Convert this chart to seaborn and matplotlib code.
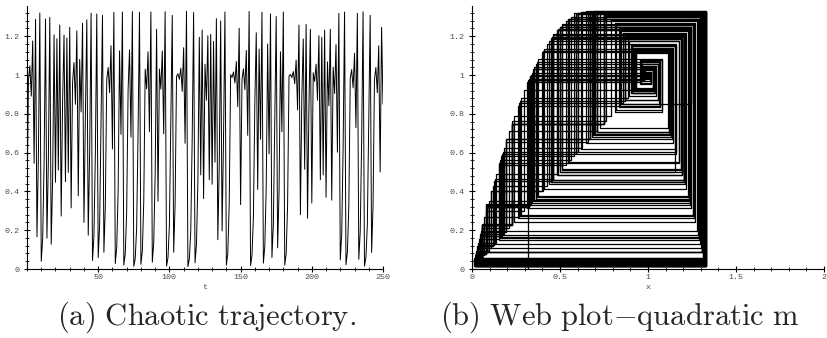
import matplotlib
matplotlib.use('Agg')
import matplotlib.pyplot as plt
from matplotlib.ticker import MultipleLocator, FixedLocator, FuncFormatter
import seaborn as sns
import numpy as np
import pandas as pd

# values of the chaotic trajectory, estimated from panel (a), t = 0 .. 250
traj = [
    0.320, 0.972, 1.047, 0.891, 1.176, 0.545, 1.287, 0.166, 0.581, 1.320,
    0.040, 0.155, 0.548, 1.289, 0.159, 0.560, 1.297, 0.128, 0.463, 1.207,
    0.447, 1.187, 0.510, 1.258, 0.273, 0.868, 1.206, 0.450, 1.191, 0.498,
    1.246, 0.315, 0.962, 1.065, 0.849, 1.228, 0.377, 1.081, 0.810, 1.267,
    0.240, 0.787, 1.285, 0.174, 0.605, 1.319, 0.044, 0.170, 0.593, 1.315,
    0.059, 0.226, 0.750, 1.308, 0.086, 0.322, 0.976, 1.039, 0.909, 1.151,
    0.619, 1.323, 0.028, 0.110, 0.404, 1.125, 0.694, 1.325, 0.020, 0.079,
    0.297, 0.923, 1.130, 0.680, 1.327, 0.014, 0.055, 0.211, 0.710, 1.324,
    0.024, 0.094, 0.349, 1.030, 0.929, 1.120, 0.708, 1.325, 0.035, 0.136,
    0.488, 1.236, 0.350, 1.031, 0.927, 1.124, 0.697, 1.327, 0.015, 0.059,
    0.226, 0.750, 1.308, 0.086, 0.330, 0.993, 1.007, 0.978, 1.036, 0.916,
    1.141, 0.648, 1.329, 0.013, 0.051, 0.196, 0.669, 1.322, 0.032, 0.125,
    0.453, 1.195, 0.485, 1.232, 0.363, 1.056, 0.870, 1.203, 0.460, 1.210,
    0.437, 1.174, 0.551, 1.291, 0.151, 0.535, 1.279, 0.196, 0.669, 1.325,
    0.020, 0.079, 0.335, 1.002, 0.988, 1.016, 0.959, 1.070, 0.837, 1.241,
    0.332, 0.980, 1.032, 0.925, 1.127, 0.689, 1.328, 0.018, 0.071, 0.269,
    0.858, 1.218, 0.410, 1.134, 0.669, 1.324, 0.030, 0.117, 0.427, 1.160,
    0.593, 1.315, 0.059, 0.230, 0.761, 1.302, 0.109, 0.400, 1.120, 0.708,
    1.325, 0.020, 0.079, 0.330, 0.995, 1.003, 0.987, 1.018, 0.955, 1.077,
    0.820, 1.258, 0.280, 0.884, 1.186, 0.514, 1.261, 0.262, 0.842, 1.236,
    0.340, 1.012, 0.967, 1.056, 0.870, 1.203, 0.460, 1.195, 0.485, 1.232,
    0.370, 1.068, 0.842, 1.236, 0.355, 1.041, 0.905, 1.157, 0.602, 1.318,
    0.047, 0.181, 0.626, 1.325, 0.022, 0.087, 0.325, 0.982, 1.028, 0.934,
    1.112, 0.729, 1.318, 0.050, 0.192, 0.657, 1.326, 0.015, 0.059, 0.226,
    0.750, 1.308, 0.086, 0.322, 0.976, 1.039, 0.909, 1.151, 0.500, 1.246,
    0.850,
]

y_ticks = [0, 0.2, 0.4, 0.6, 0.8, 1, 1.2]
t_ticks = [50, 100, 150, 200, 250]
x_ticks = [0, 0.5, 1, 1.5, 2]

# caption (b) is cut at the page edge in the source, keep what is visible
caption_a = r'$\mathrm{(a)\ Chaotic\ trajectory.}$'
caption_b = r'$\mathrm{(b)\ Web\ plot}{-}\mathrm{quadratic\ m}$'

sns.set_style('white')
plt.rcParams['mathtext.fontset'] = 'cm'

df = pd.DataFrame({'t': np.arange(len(traj)), 'x': traj})

# cobweb path: (x0,0) -> (x0,x1) -> (x1,x1) -> (x1,x2) -> ...
xs = np.array(traj)
web = pd.DataFrame({'wx': np.repeat(xs, 2)[:-1],
                    'wy': np.concatenate([[0.0], np.repeat(xs[1:], 2)])})

fig = plt.figure(figsize=(8.27, 3.38), dpi=100)
ax1 = fig.add_axes([27 / 827, 69 / 338, 356 / 827, 263 / 338])
ax2 = fig.add_axes([472 / 827, 69 / 338, 352 / 827, 263 / 338])

sns.lineplot(data=df, x='t', y='x', ax=ax1, color='black', lw=0.7,
             sort=False, estimator=None)
sns.lineplot(data=web, x='wx', y='wy', ax=ax2, color='black', lw=0.9,
             sort=False, estimator=None)

tick_font = dict(family='Liberation Mono', size=6, color='0.3')
fmt = FuncFormatter(lambda v, p: f'{v:g}')

for ax in (ax1, ax2):
    ax.set_ylim(0, 1.356)
    for s in ('top', 'right'):
        ax.spines[s].set_visible(False)
    for s in ('left', 'bottom'):
        ax.spines[s].set_linewidth(0.8)
        ax.spines[s].set_color('black')
    ax.yaxis.set_major_locator(FixedLocator(y_ticks))
    ax.yaxis.set_minor_locator(MultipleLocator(0.04))
    ax.yaxis.set_major_formatter(fmt)
    ax.xaxis.set_major_formatter(fmt)
    ax.tick_params(which='both', bottom=True, left=True)
    ax.tick_params(which='major', direction='inout', length=5, width=0.8,
                   color='black', pad=1)
    ax.tick_params(which='minor', direction='inout', length=3, width=0.6,
                   color='black')
    ax.tick_params(axis='y', which='major', pad=3)
    ax.set_ylabel('')

ax1.set_xlim(0, 250)
ax1.xaxis.set_major_locator(FixedLocator(t_ticks))
ax1.xaxis.set_minor_locator(MultipleLocator(10))
ax1.set_xlabel('t', fontdict=tick_font, labelpad=2)

ax2.set_xlim(0, 2)
ax2.xaxis.set_major_locator(FixedLocator(x_ticks))
ax2.xaxis.set_minor_locator(MultipleLocator(0.1))
ax2.set_xlabel('x', fontdict=tick_font, labelpad=2)

for ax in (ax1, ax2):
    for lab in ax.get_xticklabels() + ax.get_yticklabels():
        lab.set_fontfamily(tick_font['family'])
        lab.set_fontsize(tick_font['size'])
        lab.set_color(tick_font['color'])

fig.text(57 / 827, 13 / 338, caption_a, fontsize=22, ha='left', va='baseline')
fig.text(440 / 827, 13 / 338, caption_b, fontsize=22, ha='left', va='baseline')

fig.savefig('out.png', dpi=100)
